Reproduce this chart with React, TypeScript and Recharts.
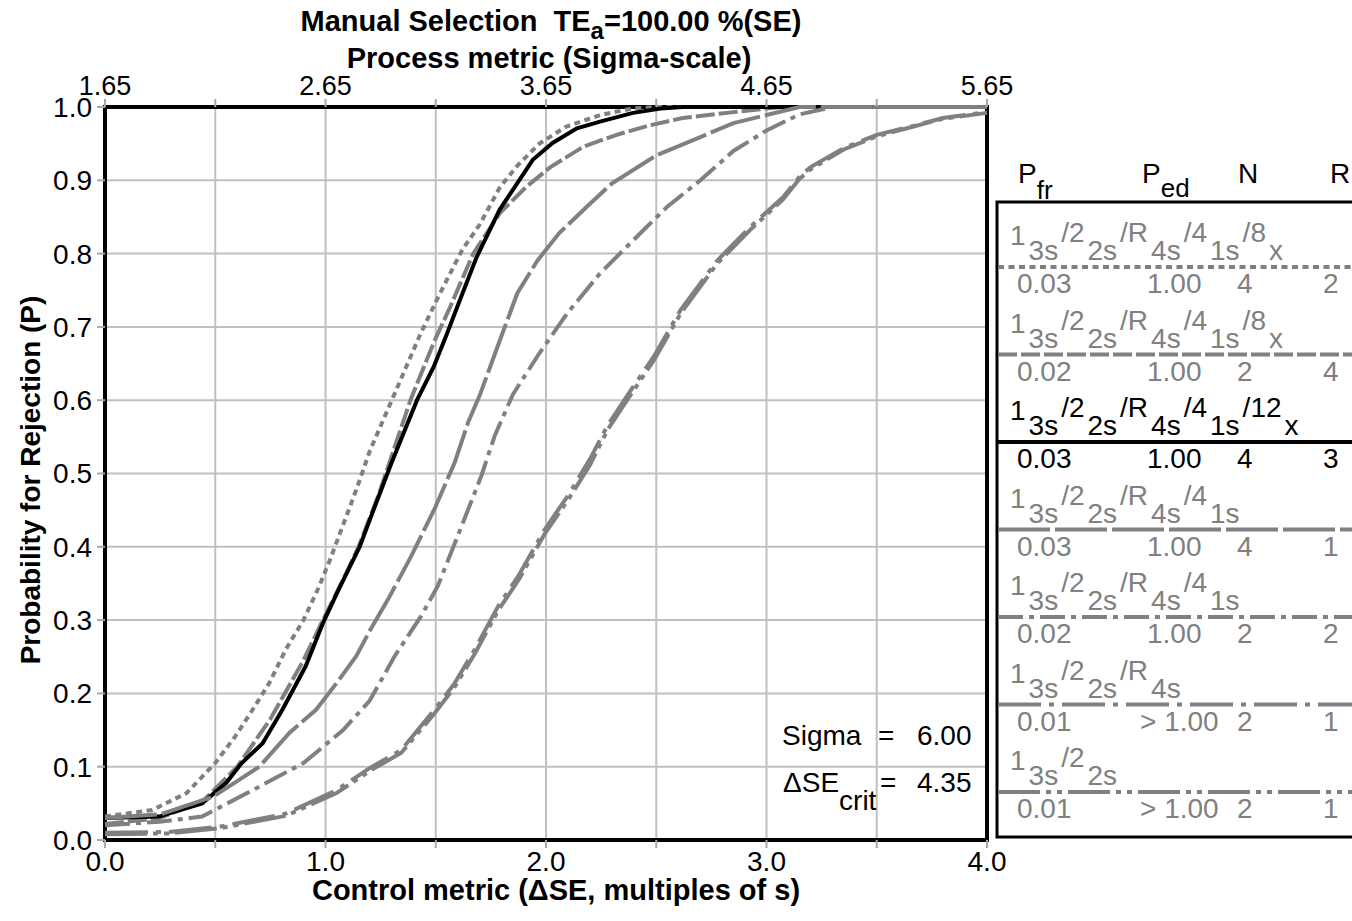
import React from 'react';
import { LineChart, Line, XAxis, YAxis, CartesianGrid, ReferenceArea } from 'recharts';

const FONT = '"Liberation Sans", Arial, Helvetica, sans-serif';
const GRAY = '#808080';

// axes
const DSE_TICKS = [0, 0.5, 1, 1.5, 2, 2.5, 3, 3.5, 4];
const SIGMA_TICKS = [1.65, 2.15, 2.65, 3.15, 3.65, 4.15, 4.65, 5.15, 5.65];
const SIGMA_LABELED = [1.65, 2.65, 3.65, 4.65, 5.65];
const P_TICKS = [0, 0.1, 0.2, 0.3, 0.4, 0.5, 0.6, 0.7, 0.8, 0.9, 1];

// power curves, [ΔSE, P]
const R8X_N4 = [
  [0, 0.032], [0.215, 0.041], [0.37, 0.064], [0.5, 0.105], [0.59, 0.141], [0.67, 0.178],
  [0.745, 0.214], [0.82, 0.26], [0.9, 0.3], [0.97, 0.345], [1.02, 0.382], [1.08, 0.43],
  [1.14, 0.478], [1.2, 0.53], [1.315, 0.61], [1.43, 0.69], [1.505, 0.737], [1.55, 0.764],
  [1.62, 0.805], [1.7, 0.84], [1.79, 0.89], [1.87, 0.92], [1.97, 0.95], [2.09, 0.973],
  [2.245, 0.989], [2.39, 0.998], [2.5, 1.0], [4.0, 1.0],
];
const R8X_N2 = [
  [0, 0.022], [0.25, 0.03], [0.45, 0.055], [0.6, 0.1], [0.75, 0.165], [0.9, 0.245],
  [0.98, 0.295], [1.08, 0.355], [1.15, 0.4], [1.24, 0.47], [1.385, 0.6], [1.49, 0.678],
  [1.565, 0.727], [1.67, 0.8], [1.79, 0.855], [1.91, 0.891], [2.02, 0.918], [2.17, 0.946],
  [2.32, 0.962], [2.47, 0.975], [2.62, 0.985], [2.85, 0.993], [3.07, 1.0], [4.0, 1.0],
];
const R12X_N4 = [
  [0, 0.03], [0.245, 0.032], [0.44, 0.05], [0.55, 0.078], [0.62, 0.105], [0.715, 0.132],
  [0.805, 0.178], [0.91, 0.237], [0.99, 0.297], [1.06, 0.342], [1.155, 0.4], [1.215, 0.448],
  [1.3, 0.515], [1.415, 0.6], [1.49, 0.645], [1.55, 0.69], [1.61, 0.737], [1.685, 0.795],
  [1.745, 0.832], [1.79, 0.86], [1.87, 0.896], [1.94, 0.928], [2.03, 0.951], [2.14, 0.971],
  [2.245, 0.98], [2.395, 0.992], [2.52, 0.998], [2.62, 1.0], [4.0, 1.0],
];
const R41S_N4 = [
  [0, 0.03], [0.25, 0.035], [0.49, 0.059], [0.7, 0.1], [0.836, 0.146], [0.958, 0.178],
  [1.05, 0.214], [1.14, 0.251], [1.2, 0.285], [1.283, 0.328], [1.39, 0.388], [1.495, 0.452],
  [1.586, 0.515], [1.647, 0.57], [1.7, 0.607], [1.78, 0.673], [1.87, 0.746], [1.96, 0.79],
  [2.06, 0.828], [2.185, 0.864], [2.3, 0.896], [2.5, 0.934], [2.7, 0.959], [2.85, 0.978],
  [3.0, 0.989], [3.15, 1.0], [4.0, 1.0],
];
const R41S_N2 = [
  [0, 0.02], [0.25, 0.025], [0.44, 0.032], [0.67, 0.068], [0.9, 0.105], [1.08, 0.15],
  [1.2, 0.19], [1.314, 0.251], [1.435, 0.306], [1.51, 0.347], [1.6, 0.415], [1.707, 0.497],
  [1.768, 0.552], [1.85, 0.608], [1.97, 0.664], [2.095, 0.718], [2.245, 0.773], [2.395, 0.818],
  [2.55, 0.864], [2.7, 0.9], [2.85, 0.94], [3.0, 0.968], [3.15, 0.99], [3.3, 1.0], [4.0, 1.0],
];
const R4S_N2 = [
  [0, 0.01], [0.29, 0.011], [0.52, 0.018], [0.82, 0.036], [1.05, 0.068], [1.2, 0.098],
  [1.344, 0.123], [1.495, 0.178], [1.586, 0.214], [1.677, 0.26], [1.783, 0.319], [1.874, 0.36],
  [1.995, 0.424], [2.1, 0.47], [2.2, 0.52], [2.28, 0.566], [2.37, 0.607], [2.49, 0.66],
  [2.61, 0.723], [2.775, 0.79], [2.925, 0.836], [3.075, 0.877], [3.15, 0.905], [3.2, 0.918],
  [3.35, 0.944], [3.5, 0.962], [3.65, 0.973], [3.8, 0.985], [4.0, 0.993],
];
const R22S_N2 = [
  [0, 0.008], [0.29, 0.009], [0.52, 0.016], [0.82, 0.033], [1.05, 0.064], [1.2, 0.094],
  [1.344, 0.119], [1.495, 0.173], [1.586, 0.209], [1.677, 0.254], [1.783, 0.313], [1.874, 0.354],
  [1.995, 0.418], [2.1, 0.464], [2.2, 0.512], [2.28, 0.56], [2.37, 0.601], [2.49, 0.655],
  [2.61, 0.718], [2.775, 0.786], [2.925, 0.832], [3.075, 0.874], [3.15, 0.902], [3.2, 0.915],
  [3.35, 0.942], [3.5, 0.96], [3.65, 0.972], [3.8, 0.984], [4.0, 0.992],
];

type Part = [string, '' | 'sub' | 'sup'];

const RULE_FULL8: Part[] = [['1', ''], ['3s', 'sub'], ['/2', 'sup'], ['2s', 'sub'], ['/R', 'sup'], ['4s', 'sub'], ['/4', 'sup'], ['1s', 'sub'], ['/8', 'sup'], ['x', 'sub']];
const RULE_FULL12: Part[] = [['1', ''], ['3s', 'sub'], ['/2', 'sup'], ['2s', 'sub'], ['/R', 'sup'], ['4s', 'sub'], ['/4', 'sup'], ['1s', 'sub'], ['/12', 'sup'], ['x', 'sub']];
const RULE_41S: Part[] = [['1', ''], ['3s', 'sub'], ['/2', 'sup'], ['2s', 'sub'], ['/R', 'sup'], ['4s', 'sub'], ['/4', 'sup'], ['1s', 'sub']];
const RULE_R4S: Part[] = [['1', ''], ['3s', 'sub'], ['/2', 'sup'], ['2s', 'sub'], ['/R', 'sup'], ['4s', 'sub']];
const RULE_22S: Part[] = [['1', ''], ['3s', 'sub'], ['/2', 'sup'], ['2s', 'sub']];

interface Series {
  key: string;
  rule: Part[];
  pfr: string;
  ped: string;
  n: string;
  r: string;
  color: string;
  dash?: string;
  data: number[][];
}

const SERIES: Series[] = [
  { key: 's1', rule: RULE_FULL8, pfr: '0.03', ped: '1.00', n: '4', r: '2', color: GRAY, dash: '6 4.5', data: R8X_N4 },
  { key: 's2', rule: RULE_FULL8, pfr: '0.02', ped: '1.00', n: '2', r: '4', color: GRAY, dash: '19 4', data: R8X_N2 },
  { key: 's3', rule: RULE_FULL12, pfr: '0.03', ped: '1.00', n: '4', r: '3', color: '#000', data: R12X_N4 },
  { key: 's4', rule: RULE_41S, pfr: '0.03', ped: '1.00', n: '4', r: '1', color: GRAY, dash: '52 5', data: R41S_N4 },
  { key: 's5', rule: RULE_41S, pfr: '0.02', ped: '1.00', n: '2', r: '2', color: GRAY, dash: '25 6 5 6', data: R41S_N2 },
  { key: 's6', rule: RULE_R4S, pfr: '0.01', ped: '> 1.00', n: '2', r: '1', color: GRAY, dash: '43 8 5 8', data: R4S_N2 },
  { key: 's7', rule: RULE_22S, pfr: '0.01', ped: '> 1.00', n: '2', r: '1', color: GRAY, dash: '42 6 5 6 5 6', data: R22S_N2 },
];

const toPts = (a: number[][]) => a.map(([x, p]) => ({ x, p }));
// anchor points so the sigma-scale axis gets its own domain
const SIGMA_ANCHOR = [SIGMA_TICKS[0], SIGMA_TICKS[SIGMA_TICKS.length - 1]].map((x) => ({ x, p: 0 }));

const off = (m: string) => (m === 'sub' ? 15 : m === 'sup' ? -3 : 0);

function LegendEntry({ s, i }: { s: Series; i: number }) {
  const ly = 267 + 87.5 * i;
  const fill = s.color;
  return (
    <g>
      <text x={1010} y={ly - 22} fontSize={28} fill={fill}>
        {s.rule.map(([t, kind], k) => {
          const prev = k > 0 ? s.rule[k - 1][1] : '';
          return (
            <tspan key={k} dx={k > 0 ? 3 : 0} dy={off(kind) - off(prev)}>{t}</tspan>
          );
        })}
      </text>
      <line x1={998} x2={1352} y1={ly} y2={ly} stroke={s.color} strokeWidth={4} strokeDasharray={s.dash} />
      <text x={1017} y={ly + 26} fontSize={28} fill={fill}>{s.pfr}</text>
      <text x={s.ped.startsWith('>') ? 1140 : 1147} y={ly + 26} fontSize={28} fill={fill}>{s.ped}</text>
      <text x={1237} y={ly + 26} fontSize={28} fill={fill}>{s.n}</text>
      <text x={1323} y={ly + 26} fontSize={28} fill={fill}>{s.r}</text>
    </g>
  );
}

export default function App() {
  return (
    <div style={{ position: 'absolute', left: 0, top: 0, width: 1352, height: 921, background: '#fff', fontFamily: FONT }}>
      <LineChart width={1352} height={921} margin={{ top: 67, right: 365, bottom: 31, left: 45 }}>
        <CartesianGrid stroke="#c0c0c0" strokeWidth={2} />
        <XAxis
          type="number"
          dataKey="x"
          domain={[0, 4]}
          ticks={DSE_TICKS}
          interval={0}
          height={50}
          axisLine={false}
          tickLine={{ stroke: '#a8a8a8', strokeWidth: 2 }}
          tickSize={8}
          tickMargin={3}
          tick={{ fontSize: 28, fill: '#000' }}
          tickFormatter={(v: number) => (Number.isInteger(v) ? v.toFixed(1) : '')}
        />
        <XAxis
          xAxisId="top"
          orientation="top"
          type="number"
          dataKey="x"
          domain={[1.65, 5.65]}
          ticks={SIGMA_TICKS}
          interval={0}
          height={40}
          allowDataOverflow
          axisLine={false}
          tickLine={{ stroke: '#a8a8a8', strokeWidth: 2 }}
          tickSize={8}
          tickMargin={4}
          tick={{ fontSize: 27, fill: '#000' }}
          tickFormatter={(v: number) => (SIGMA_LABELED.includes(v) ? v.toFixed(2) : '')}
        />
        <YAxis
          type="number"
          domain={[0, 1]}
          ticks={P_TICKS}
          interval={0}
          width={60}
          axisLine={false}
          tickLine={{ stroke: '#a8a8a8', strokeWidth: 2 }}
          tickSize={8}
          tickMargin={5}
          tick={{ fontSize: 28, fill: '#000' }}
          tickFormatter={(v: number) => v.toFixed(1)}
        />
        <ReferenceArea x1={0} x2={4} y1={0} y2={1} fill="none" stroke="#000" strokeWidth={4} ifOverflow="visible" />
        <Line
          xAxisId="top"
          data={SIGMA_ANCHOR}
          dataKey="p"
          stroke="none"
          dot={false}
          activeDot={false}
          legendType="none"
          isAnimationActive={false}
        />
        {SERIES.map((s) => (
          <Line
            key={s.key}
            data={toPts(s.data)}
            dataKey="p"
            type="linear"
            stroke={s.color}
            strokeWidth={4}
            strokeDasharray={s.dash}
            dot={false}
            activeDot={false}
            isAnimationActive={false}
          />
        ))}
      </LineChart>

      <svg width={1352} height={921} style={{ position: 'absolute', left: 0, top: 0, pointerEvents: 'none', fontFamily: FONT }}>
        {/* titles */}
        <text x={551} y={31} textAnchor="middle" fontSize={29} fontWeight="bold">
          <tspan>{'Manual Selection\u00a0\u00a0TE'}</tspan>
          <tspan dy={8} fontSize={24}>a</tspan>
          <tspan dy={-8}>=100.00 %(SE)</tspan>
        </text>
        <text x={549} y={68} textAnchor="middle" fontSize={29} fontWeight="bold">Process metric (Sigma-scale)</text>
        <text x={556} y={900} textAnchor="middle" fontSize={29} fontWeight="bold">Control metric (ΔSE, multiples of s)</text>
        <text transform="rotate(-90)" x={-480} y={40} textAnchor="middle" fontSize={28} fontWeight="bold">Probability for Rejection (P)</text>

        {/* in-plot annotation */}
        <text x={782} y={745} fontSize={28}>Sigma</text>
        <text x={878} y={745} fontSize={28}>=</text>
        <text x={917} y={745} fontSize={28}>6.00</text>
        <text x={783} y={792} fontSize={28}>
          <tspan>ΔSE</tspan>
          <tspan dy={18}>crit</tspan>
        </text>
        <text x={880} y={792} fontSize={28}>=</text>
        <text x={917} y={792} fontSize={28}>4.35</text>

        {/* legend */}
        <text x={1018} y={183} fontSize={28}>
          <tspan>P</tspan>
          <tspan dy={16} fontSize={26}>fr</tspan>
        </text>
        <text x={1142} y={183} fontSize={28}>
          <tspan>P</tspan>
          <tspan dy={14} fontSize={26}>ed</tspan>
        </text>
        <text x={1238} y={183} fontSize={28}>N</text>
        <text x={1330} y={183} fontSize={28}>R</text>
        <rect x={997} y={202} width={420} height={635} fill="none" stroke="#000" strokeWidth={3} />
        {SERIES.map((s, i) => (
          <LegendEntry key={s.key} s={s} i={i} />
        ))}
      </svg>
    </div>
  );
}
